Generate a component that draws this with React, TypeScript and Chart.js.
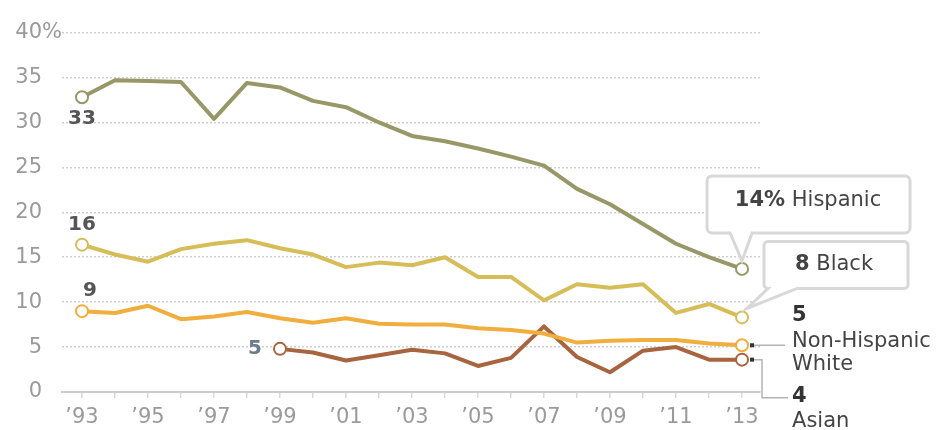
import { useEffect, useRef } from "react";
import { Chart, registerables } from "chart.js";

Chart.register(...registerables);

const years = [1993, 1994, 1995, 1996, 1997, 1998, 1999, 2000, 2001, 2002, 2003, 2004, 2005, 2006, 2007, 2008, 2009, 2010, 2011, 2012, 2013];
const hispanic = [32.8, 34.7, 34.6, 34.5, 30.4, 34.4, 33.9, 32.4, 31.7, 30.0, 28.5, 27.9, 27.1, 26.2, 25.2, 22.6, 20.9, 18.7, 16.5, 15.0, 13.7];
const black = [16.4, 15.3, 14.5, 15.9, 16.5, 16.9, 16.0, 15.3, 13.9, 14.4, 14.1, 15.0, 12.8, 12.8, 10.2, 12.0, 11.6, 12.0, 8.8, 9.8, 8.3];
const white = [9.0, 8.8, 9.6, 8.1, 8.4, 8.9, 8.2, 7.7, 8.2, 7.6, 7.5, 7.5, 7.1, 6.9, 6.5, 5.5, 5.7, 5.8, 5.8, 5.4, 5.2];
const asian = [null, null, null, null, null, null, 4.8, 4.4, 3.5, 4.1, 4.7, 4.3, 2.9, 3.8, 7.3, 3.9, 2.2, 4.6, 5.0, 3.6, 3.6];

const seriesNames = ["Hispanic", "Black", "Non-Hispanic White", "Asian"];
const seriesColors = ["#989767", "#d6bd58", "#f0ae3e", "#a8643e"];
const endLabels = ["14%", "8", "5", "4"];

const FONT = "'DejaVu Sans', sans-serif";
const TICK_COLOR = "#9a9a9a";
const TEXT_COLOR = "#444444";
const ANN_SIZE = 21;

function bubble(
  ctx: CanvasRenderingContext2D,
  x: number, y: number, w: number, h: number, r: number,
  b1: number, b2: number, tx: number, ty: number
) {
  ctx.beginPath();
  ctx.moveTo(x + r, y);
  ctx.lineTo(x + w - r, y);
  ctx.arcTo(x + w, y, x + w, y + r, r);
  ctx.lineTo(x + w, y + h - r);
  ctx.arcTo(x + w, y + h, x + w - r, y + h, r);
  ctx.lineTo(b2, y + h);
  ctx.lineTo(tx, ty);
  ctx.lineTo(b1, y + h);
  ctx.lineTo(x + r, y + h);
  ctx.arcTo(x, y + h, x, y + h - r, r);
  ctx.lineTo(x, y + r);
  ctx.arcTo(x, y, x + r, y, r);
  ctx.closePath();
  ctx.fillStyle = "#ffffff";
  ctx.fill();
  ctx.strokeStyle = "#d8d8d8";
  ctx.lineWidth = 3;
  ctx.stroke();
}

function mixedText(ctx: CanvasRenderingContext2D, boldPart: string, rest: string, cx: number, cy: number) {
  ctx.font = `bold ${ANN_SIZE}px ${FONT}`;
  const w1 = ctx.measureText(boldPart).width;
  ctx.font = `${ANN_SIZE}px ${FONT}`;
  const w2 = ctx.measureText(rest).width;
  const start = cx - (w1 + w2) / 2;
  ctx.textAlign = "left";
  ctx.textBaseline = "middle";
  ctx.fillStyle = TEXT_COLOR;
  ctx.font = `bold ${ANN_SIZE}px ${FONT}`;
  ctx.fillText(boldPart, start, cy);
  ctx.font = `${ANN_SIZE}px ${FONT}`;
  ctx.fillText(rest, start + w1, cy);
}

const annotations = {
  id: "annotations",
  afterDatasetsDraw(chart: any) {
    const ctx: CanvasRenderingContext2D = chart.ctx;
    const xs = chart.scales.x;
    const ys = chart.scales.y;
    const X = (v: number) => xs.getPixelForValue(v);
    const Y = (v: number) => ys.getPixelForValue(v);
    const last = years.length - 1;
    const firstYear = years[0];
    const asianFirst = asian.findIndex((v) => v !== null);

    ctx.save();
    // "%" after 40
    ctx.font = `21px ${FONT}`;
    ctx.fillStyle = TICK_COLOR;
    ctx.textAlign = "left";
    ctx.textBaseline = "middle";
    ctx.fillText("%", chart.chartArea.left - 20, Y(40));

    // start labels
    ctx.font = `bold 20px ${FONT}`;
    ctx.fillStyle = "#555555";
    ctx.textAlign = "center";
    ctx.fillText(String(Math.round(hispanic[0])), X(firstYear), Y(hispanic[0]) + 22);
    ctx.fillText(String(Math.round(black[0])), X(firstYear), Y(black[0]) - 20);
    ctx.fillText(String(Math.round(white[0])), X(firstYear) + 8, Y(white[0]) - 20);
    ctx.fillStyle = "#6c7a8e";
    ctx.fillText(String(Math.round(asian[asianFirst] as number)), X(years[asianFirst]) - 25, Y(asian[asianFirst] as number));

    const px = X(years[last]);

    // Hispanic callout
    const pyH = Y(hispanic[last]);
    bubble(ctx, px - 35, pyH - 93, 203, 57, 5, px - 12, px + 10, px, pyH - 8);
    mixedText(ctx, endLabels[0], " " + seriesNames[0], px + 66, pyH - 68);

    // Black callout
    const pyB = Y(black[last]);
    bubble(ctx, px + 22, pyB - 76, 144, 47, 4, px + 26, px + 55, px + 5, pyB - 9);
    mixedText(ctx, endLabels[1], " " + seriesNames[1], px + 92, pyB - 53);

    // White connector + text
    const pyW = Y(white[last]);
    ctx.strokeStyle = "#b4b4b4";
    ctx.lineWidth = 1.5;
    ctx.beginPath();
    ctx.moveTo(px + 9, pyW);
    ctx.lineTo(px + 43, pyW);
    ctx.stroke();
    ctx.fillStyle = "#333333";
    ctx.fillRect(px + 8, pyW - 2, 4, 4);

    const pyA = Y(asian[last] as number);
    ctx.beginPath();
    ctx.moveTo(px + 9, pyA);
    ctx.lineTo(px + 20, pyA);
    ctx.lineTo(px + 20, pyA + 38);
    ctx.lineTo(px + 46, pyA + 38);
    ctx.stroke();
    ctx.fillStyle = "#333333";
    ctx.fillRect(px + 8, pyA - 2, 4, 4);

    const tx = px + 50;
    ctx.textAlign = "left";
    ctx.textBaseline = "middle";
    ctx.fillStyle = "#333333";
    ctx.font = `bold ${ANN_SIZE}px ${FONT}`;
    ctx.fillText(endLabels[2], tx, pyW - 30);
    ctx.fillStyle = TEXT_COLOR;
    ctx.font = `${ANN_SIZE}px ${FONT}`;
    ctx.fillText("Non-Hispanic", tx, pyW - 4);
    ctx.fillText("White", tx, pyW + 19);
    ctx.fillStyle = "#333333";
    ctx.font = `bold ${ANN_SIZE}px ${FONT}`;
    ctx.fillText(endLabels[3], tx, pyA + 37);
    ctx.fillStyle = TEXT_COLOR;
    ctx.font = `${ANN_SIZE}px ${FONT}`;
    ctx.fillText(seriesNames[3], tx, pyA + 62);

    ctx.restore();
  },
};

function makeDataset(label: string, values: (number | null)[], color: string) {
  const firstIdx = values.findIndex((v) => v !== null);
  const lastIdx = values.length - 1;
  return {
    label,
    data: years.map((yr, i) => ({ x: yr, y: values[i] })),
    borderColor: color,
    borderWidth: 4,
    borderJoinStyle: "round" as const,
    borderCapStyle: "round" as const,
    tension: 0,
    spanGaps: false,
    pointRadius: (c: any) => (c.dataIndex === firstIdx || c.dataIndex === lastIdx ? 6 : 0),
    pointBackgroundColor: "#ffffff",
    pointBorderColor: color,
    pointBorderWidth: 2,
    pointHoverRadius: 0,
  };
}

export default function App() {
  const ref = useRef<HTMLCanvasElement | null>(null);

  useEffect(() => {
    document.body.style.margin = "0";
    if (!ref.current) return;
    const chart = new Chart(ref.current, {
      type: "line",
      data: {
        datasets: [
          makeDataset(seriesNames[0], hispanic, seriesColors[0]),
          makeDataset(seriesNames[1], black, seriesColors[1]),
          makeDataset(seriesNames[2], white, seriesColors[2]),
          makeDataset(seriesNames[3], asian, seriesColors[3]),
        ],
      },
      options: {
        animation: false,
        responsive: false,
        devicePixelRatio: 1,
        layout: { padding: { top: 27, right: 183, left: 0, bottom: 0 } },
        plugins: { legend: { display: false }, tooltip: { enabled: false } },
        events: [],
        scales: {
          x: {
            type: "linear",
            min: 1992.394,
            max: 2013.545,
            afterFit: (s: any) => {
              s.height = 38;
            },
            ticks: {
              stepSize: 1,
              includeBounds: false,
              autoSkip: false,
              maxRotation: 0,
              maxTicksLimit: 40,
              padding: 7,
              color: TICK_COLOR,
              font: { family: FONT, size: 21 },
              callback: (v: any) => (Number(v) % 2 === 1 ? "\u2019" + String(v).slice(2) : ""),
            },
            grid: {
              display: true,
              drawOnChartArea: false,
              drawTicks: true,
              tickLength: 6,
              color: "#d8d8d8",
              lineWidth: 1.5,
            },
            border: { display: true, color: "#cccccc", width: 2 },
          },
          y: {
            min: 0,
            max: 40,
            afterFit: (s: any) => {
              s.width = 62;
            },
            ticks: {
              stepSize: 5,
              padding: 20,
              color: TICK_COLOR,
              font: { family: FONT, size: 21 },
            },
            grid: {
              drawTicks: false,
              color: (c: any) => (c.tick && c.tick.value === 0 ? "rgba(0,0,0,0)" : "#cfcfcf"),
              lineWidth: 1.5,
            },
            border: { display: false, dash: [2, 2] },
          },
        },
      },
      plugins: [annotations],
    });
    return () => chart.destroy();
  }, []);

  return (
    <div style={{ width: 943, height: 430, background: "#ffffff" }}>
      <canvas ref={ref} width={943} height={430} style={{ display: "block", width: 943, height: 430 }} />
    </div>
  );
}
